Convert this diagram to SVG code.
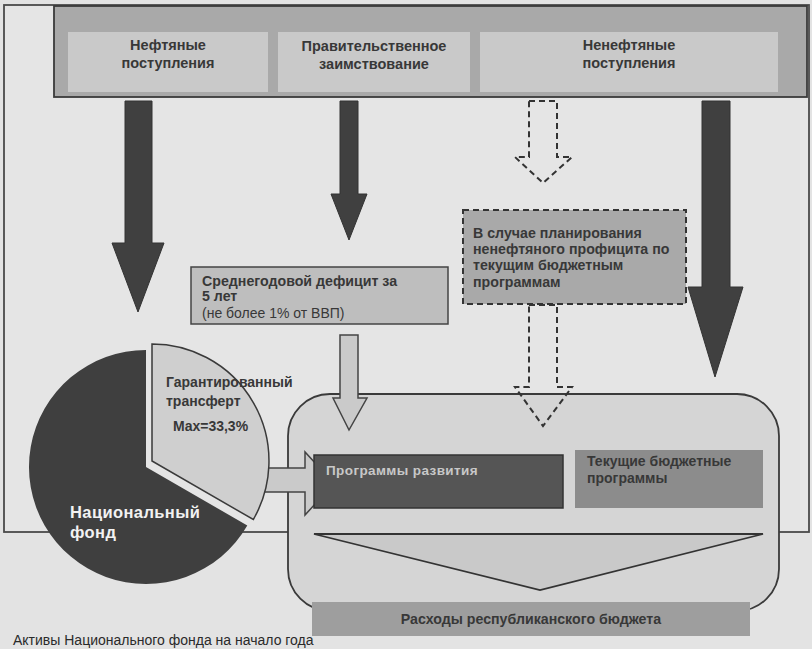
<svg xmlns="http://www.w3.org/2000/svg" width="812" height="649" viewBox="0 0 812 649">
<defs>
<style>
text{font-family:"Liberation Sans",Arial,sans-serif;}
.b{font-weight:bold;}
.dark{fill:#404040;stroke:#333;stroke-width:1;}
.light{fill:#cacaca;stroke:#444;stroke-width:1.5;}
.dash{fill:none;stroke:#333;stroke-width:2;stroke-dasharray:6 4;}
.t{fill:#383838;}
</style>
</defs>
<rect width="812" height="649" fill="#e3e3e3"/>
<rect id="frame" x="4" y="5" width="805" height="527" fill="#e5e5e5" stroke="#4a4a4a" stroke-width="1.8"/>

<g id="sources">
<rect x="54" y="6" width="753" height="91" fill="#a9a9a9" stroke="#3a3a3a" stroke-width="1.8"/>
<g id="oil">
<rect x="68" y="32" width="200" height="60" fill="#c9c9c9"/>
<text class="b t" x="168" y="50" font-size="14.5" text-anchor="middle">Нефтяные</text>
<text class="b t" x="168" y="68" font-size="14.5" text-anchor="middle">поступления</text>
</g>
<g id="borrow">
<rect x="278" y="32" width="192" height="60" fill="#c9c9c9"/>
<text class="b t" x="374" y="51" font-size="14.5" text-anchor="middle">Правительственное</text>
<text class="b t" x="374" y="69" font-size="14.5" text-anchor="middle">заимствование</text>
</g>
<g id="nonoil">
<rect x="480" y="32" width="298" height="60" fill="#c9c9c9"/>
<text class="b t" x="629" y="50" font-size="14.5" text-anchor="middle">Ненефтяные</text>
<text class="b t" x="629" y="68" font-size="14.5" text-anchor="middle">поступления</text>
</g>
</g>

<g id="budget">
<rect x="288" y="394" width="491" height="217" rx="42" fill="#d5d5d5" stroke="#3a3a3a" stroke-width="1.8"/>
</g>

<g id="connectors">
<polygon class="dark" points="125,101 152,101 152,243 164,243 138,312 112,243 125,243"/>
<polygon class="dark" points="340,101 358,101 358,194 367,194 349,240 331,194 340,194"/>
<polygon class="dark" points="702,101 730,101 730,287 743,287 715,377 688,287 702,287"/>
<polygon class="dash" points="529,101 557,101 557,157 572,157 543,183 515,157 529,157"/>
<polygon class="dash" points="529,305 557,305 557,387 572,387 543,426 515,387 529,387"/>
<polygon class="light" points="340,335 358,335 358,398 367,398 349,430 333,398 340,398"/>
<polygon class="light" points="247,468 305,468 305,452 334,483.5 305,515 305,492 247,492"/>
</g>

<g id="deficit">
<rect x="191" y="267" width="257" height="57" fill="#bebebe" stroke="#444" stroke-width="1.5"/>
<text class="b t" x="202" y="286" font-size="14.2">Среднегодовой дефицит за</text>
<text class="b t" x="202" y="301" font-size="14.2">5 лет</text>
<text class="t" x="202" y="318" font-size="14">(не более 1% от ВВП)</text>
</g>

<g id="surplus">
<rect x="463" y="210" width="223" height="94" fill="#a9a9a9" stroke="#333" stroke-width="2" stroke-dasharray="6 4"/>
<text class="b t" x="473" y="238" font-size="14.2">В случае планирования</text>
<text class="b t" x="473" y="254" font-size="14.2">ненефтяного профицита по</text>
<text class="b t" x="473" y="270" font-size="14.2">текущим бюджетным</text>
<text class="b t" x="473" y="287" font-size="14.2">программам</text>
</g>

<g id="fund">
<path d="M146,467 L146,350 A117,117 0 1,0 247.3,525.5 Z" fill="#3f3f3f"/>
<text class="b" x="70" y="518" font-size="16.5" fill="#f2f2f2" letter-spacing="0.4">Национальный</text>
<text class="b" x="70" y="538" font-size="16.5" fill="#f2f2f2" letter-spacing="0.4">фонд</text>
</g>
<g id="transfer">
<path d="M152,461 L152,344 A117,117 0 0,1 253.3,519.5 Z" fill="#cfcfcf" stroke="#3a3a3a" stroke-width="1.5"/>
<text class="b t" x="166" y="387" font-size="14">Гарантированный</text>
<text class="b t" x="166" y="406" font-size="14">трансферт</text>
<text class="b t" x="173" y="431" font-size="14">Max=33,3%</text>
</g>

<g id="dev">
<rect x="314" y="455" width="249" height="53" fill="#555" stroke="#333" stroke-width="1.5"/>
<text class="b" x="326" y="475" font-size="13.5" fill="#c8c8c8" letter-spacing="0.4">Программы развития</text>
</g>
<g id="current">
<rect x="575" y="450" width="188" height="58" fill="#8c8c8c"/>
<text class="b t" x="587" y="466" font-size="14">Текущие бюджетные</text>
<text class="b t" x="587" y="483" font-size="14">программы</text>
</g>
<g id="funnel">
<polygon points="314,534 763,534 540,590" fill="#c9c9c9" stroke="#333" stroke-width="1.8"/>
</g>
<g id="expenses">
<rect x="312" y="602" width="438" height="34" fill="#9e9e9e"/>
<text class="b t" x="531" y="624" font-size="14.2" text-anchor="middle">Расходы республиканского бюджета</text>
</g>
<text id="caption" x="13" y="645" font-size="14" fill="#2a2a2a">Активы Национального фонда на начало года</text>
</svg>
